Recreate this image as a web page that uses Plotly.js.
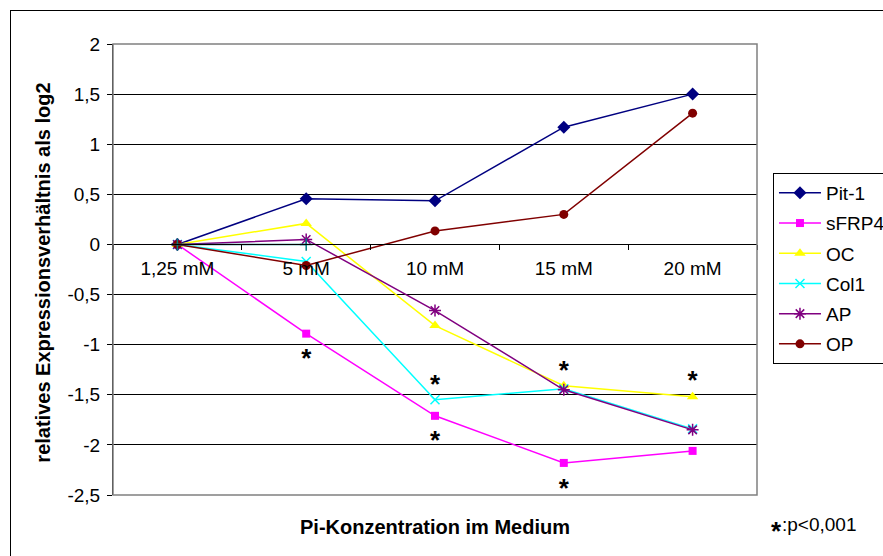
<!DOCTYPE html>
<html>
<head>
<meta charset="utf-8">
<script src="https://cdn.plot.ly/plotly-3.0.1.min.js"></script>
<style>
  html, body { margin: 0; padding: 0; background: #fff; overflow: hidden; }
  #frame { position: absolute; left: 10px; top: 10px; width: 900px; height: 560px;
           border: 1px solid #000; background: #fff; }
  #chart { width: 900px; height: 560px; }
</style>
</head>
<body>
<div id="frame"><div id="chart"></div></div>
<script>
// Pi concentrations in the medium (x categories)
const categories = ['1,25 mM', '5 mM', '10 mM', '15 mM', '20 mM'];

// log2 relative expression per gene
const pit1  = [0, 0.455, 0.435, 1.17, 1.50];
const sfrp4 = [0, -0.89, -1.71, -2.18, -2.06];
const oc    = [0, 0.21, -0.81, -1.41, -1.52];
const col1  = [0, -0.17, -1.55, -1.44, -1.84];
const ap    = [0, 0.05, -0.66, -1.45, -1.85];
const op    = [0, -0.21, 0.135, 0.30, 1.31];
// reference series, only the first two concentrations
const refCats = ['1,25 mM', '5 mM'];
const refVals = [0, 0];

// significance marks (p<0,001)
const sigCats = ['5 mM', '10 mM', '10 mM', '15 mM', '15 mM', '20 mM'];
const sigY    = [-1.155, -1.415, -1.975, -1.275, -2.455, -1.38];

// y axis ticks
const yTickVals = [2, 1.5, 1, 0.5, 0, -0.5, -1, -1.5, -2, -2.5];
const yTickText = ['2', '1,5', '1', '0,5', '0', '-0,5', '-1', '-1,5', '-2', '-2,5'];

function series(name, y, color, symbol, size, group) {
  const outline = symbol.indexOf('open') >= 0 || symbol.indexOf('thin') >= 0;
  return {
    type: 'scatter', mode: 'lines+markers', name: name,
    x: categories, y: y, legendgroup: group,
    line: { color: color, width: 1.5 },
    marker: { color: color, symbol: symbol, size: size,
              line: { color: color, width: outline ? 1.5 : 0 } }
  };
}

const traces = [
  series('Pit-1', pit1, '#000080', 'diamond', 10, 'g1'),
  series('sFRP4', sfrp4, '#FF00FF', 'square', 8, 'g2'),
  series('OC', oc, '#FFFF00', 'triangle-up', 10, 'g3'),
  series('Col1', col1, '#00FFFF', 'x-thin-open', 9, 'g4'),
  series('AP', ap, '#800080', 'asterisk-open', 10, 'g5'),
  series('OP', op, '#800000', 'circle', 9, 'g6'),
  {
    type: 'scatter', mode: 'lines+markers', x: refCats, y: refVals,
    showlegend: false, hoverinfo: 'skip',
    line: { color: '#008080', width: 1.5 },
    marker: { color: '#008080', symbol: 'cross-thin-open', size: 9, line: { color: '#008080', width: 1.5 } }
  },
  {
    type: 'scatter', mode: 'text', x: sigCats, y: sigY, text: sigCats.map(() => '<b>*</b>'),
    textposition: 'middle center', showlegend: false, hoverinfo: 'skip',
    textfont: { family: 'Liberation Sans, Arial, sans-serif', size: 26, color: '#000' }
  }
];

const layout = {
  width: 900, height: 560,
  margin: { l: 102, r: 154, t: 33, b: 76 },
  paper_bgcolor: '#fff', plot_bgcolor: '#fff',
  separators: ', ',
  font: { family: 'Liberation Sans, Arial, sans-serif', size: 19, color: '#000' },
  showlegend: true,
  legend: {
    x: 1.0248, y: 0.714, xanchor: 'left', yanchor: 'top',
    bgcolor: '#fff', bordercolor: '#000', borderwidth: 1,
    font: { size: 19, color: '#000' },
    traceorder: 'grouped', tracegroupgap: 2.5, itemwidth: 42
  },
  xaxis: {
    type: 'category', categoryorder: 'array', categoryarray: categories,
    range: [-0.5, 4.5], anchor: 'free', position: 2.5 / 4.5,
    showline: true, linecolor: '#000', linewidth: 1,
    ticks: 'outside', tickson: 'boundaries', ticklen: 5, tickcolor: '#000',
    showgrid: false, zeroline: false, ticklabelstandoff: 7,
    tickfont: { size: 19 }
  },
  yaxis: {
    range: [-2.5, 2], tickvals: yTickVals, ticktext: yTickText,
    showline: true, linecolor: '#000', linewidth: 1,
    ticks: 'outside', ticklen: 5, tickcolor: '#000',
    showgrid: true, gridcolor: '#000', gridwidth: 1, zeroline: false,
    ticklabelstandoff: 3,
    tickfont: { size: 19 }
  },
  shapes: [
    // plot area frame (top, right, bottom)
    { type: 'rect', xref: 'paper', yref: 'paper', x0: 0, x1: 1, y0: 0, y1: 1,
      line: { color: '#808080', width: 1.5 }, fillcolor: 'rgba(0,0,0,0)', layer: 'above' }
  ],
  annotations: [
    { xref: 'paper', yref: 'paper', x: 0.5, y: -0.071, xanchor: 'center', yanchor: 'middle',
      showarrow: false, text: '<b>Pi-Konzentration im Medium</b>', font: { size: 20 } },
    { xref: 'paper', yref: 'paper', x: -0.108, y: 0.494, xanchor: 'center', yanchor: 'middle',
      showarrow: false, textangle: -90, text: '<b>relatives Expressionsverhältnis als log2</b>', font: { size: 20 } },
    { xref: 'paper', yref: 'paper', x: 1.018, y: -0.080, xanchor: 'left', yanchor: 'middle',
      showarrow: false, text: '<b>*</b>', font: { size: 26 } },
    { xref: 'paper', yref: 'paper', x: 1.035, y: -0.066, xanchor: 'left', yanchor: 'middle',
      showarrow: false, text: ':p<0,001', font: { size: 19 } }
  ]
};

Plotly.newPlot('chart', traces, layout, { staticPlot: true, displayModeBar: false });
</script>
</body>
</html>
